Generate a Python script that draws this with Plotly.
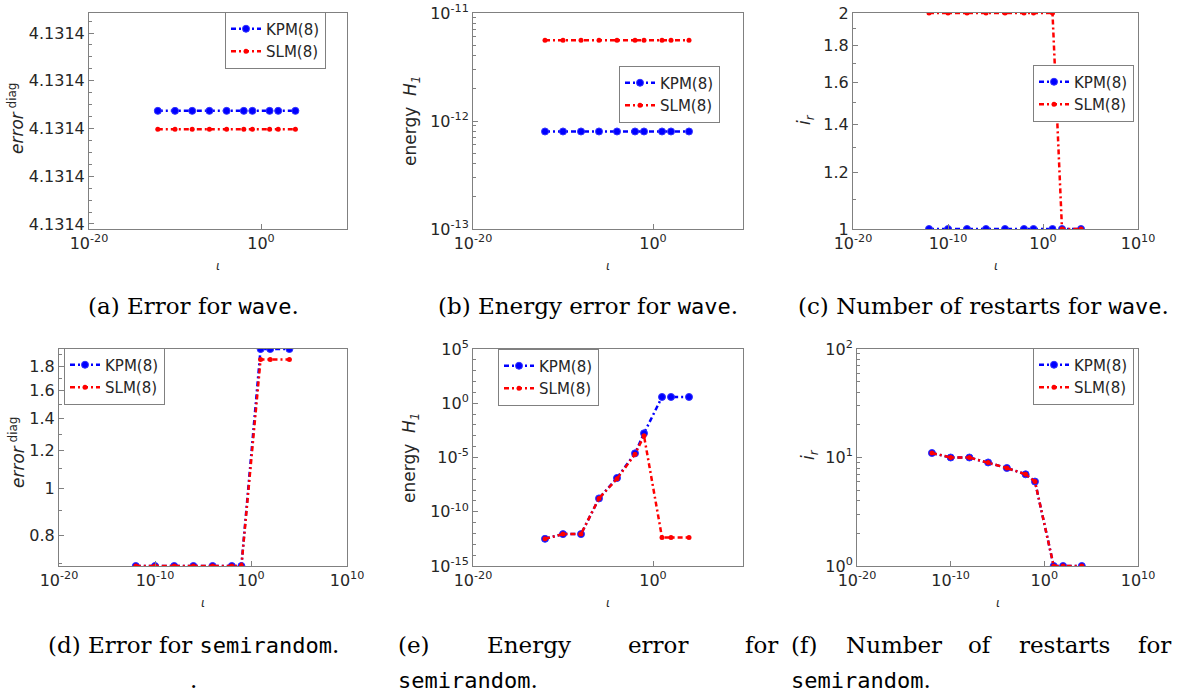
import math
import plotly.graph_objects as go

W, H = 1177, 694

# ---------------- data ----------------
iota = [1e-12, 1e-10, 1e-8, 1e-6, 1e-4, 1e-2, 1e-1, 1e1, 1e2, 1e4]

# (a) error for wave (values differ only beyond the 4th decimal)
err_wave_kpm = [4.13144074, 4.13144074, 4.13144074, 4.13144074, 4.13144074,
                4.13144074, 4.13144074, 4.13144074, 4.13144074, 4.13144074]
err_wave_slm = [4.13143997, 4.13143997, 4.13143997, 4.13143997, 4.13143997,
                4.13143997, 4.13143997, 4.13143997, 4.13143997, 4.13143997]
err_wave_ticks = [4.131436, 4.131438, 4.131440, 4.131442, 4.131444]
err_wave_ticktext = ["4.1314", "4.1314", "4.1314", "4.1314", "4.1314"]

# (b) energy error for wave
en_wave_kpm = [8.0e-13, 8.0e-13, 8.0e-13, 8.0e-13, 8.0e-13,
               8.0e-13, 8.0e-13, 8.0e-13, 8.0e-13, 8.0e-13]
en_wave_slm = [5.6e-12, 5.6e-12, 5.6e-12, 5.6e-12, 5.6e-12,
               5.6e-12, 5.6e-12, 5.6e-12, 5.6e-12, 5.6e-12]

# (c) restarts for wave
ir_wave_kpm = [1, 1, 1, 1, 1, 1, 1, 1, 1, 1]
ir_wave_slm = [2, 2, 2, 2, 2, 2, 2, 2, 1, 1]

# (d) error for semirandom
err_semi_kpm = [0.69, 0.69, 0.69, 0.69, 0.69, 0.69, 0.69, 1.955, 1.955, 1.955]
err_semi_slm = [0.69, 0.69, 0.69, 0.69, 0.69, 0.69, 0.69, 1.86, 1.86, 1.86]

# (e) energy error for semirandom
en_semi_kpm = [3.2e-13, 8.7e-13, 8.7e-13, 1.7e-9, 1.3e-7, 2.4e-5, 1.7e-3, 3.8, 3.8, 3.8]
en_semi_slm = [3.2e-13, 8.7e-13, 8.7e-13, 1.7e-9, 1.1e-7, 2.0e-5, 1.0e-3, 4.3e-13, 4.3e-13, 4.3e-13]

# (f) restarts for semirandom
ir_semi_kpm = [11, 10, 10, 9, 8, 7, 6, 1, 1, 1]
ir_semi_slm = [11, 10, 10, 9, 8, 7, 6, 1, 1, 1]

series_names = ["KPM(8)", "SLM(8)"]

# ---------------- layout helpers ----------------
def fx(x):
    return x / W


def fy(y):
    return 1 - y / H


GRAY = "#808080"
TXT = "#262626"
TICKFONT = dict(family="DejaVu Sans", size=16, color=TXT)

axis_common = dict(showline=True, linecolor=GRAY, linewidth=1, mirror=True,
                   ticks="inside", ticklen=5, tickcolor=GRAY, showgrid=False,
                   zeroline=False, tickfont=TICKFONT, automargin=False)
minor_style = dict(ticks="inside", ticklen=3, tickcolor=GRAY, showgrid=False)


def sup(e):
    return "10<sup>%d</sup>" % e


# panel boxes in pixels: (x0, x1, ytop, ybottom)
boxes = {
    1: (89, 347, 13, 229),
    2: (473, 743, 13, 229),
    3: (853, 1138, 13, 229),
    4: (59, 347, 349, 566),
    5: (473, 743, 349, 566),
    6: (857, 1138, 349, 566),
}

x2ticks = [1e-20, 1e0]
x2text = [sup(-20), sup(0)]
x4ticks = [1e-20, 1e-10, 1e0, 1e10]
x4text = [sup(-20), sup(-10), sup(0), sup(10)]

xaxes = {
    1: dict(type="log", range=[-20, 10], tickvals=x2ticks, ticktext=x2text),
    2: dict(type="log", range=[-20, 10], tickvals=x2ticks, ticktext=x2text),
    3: dict(type="log", range=[-20, 10], tickvals=x4ticks, ticktext=x4text),
    4: dict(type="log", range=[-20, 10], tickvals=x4ticks, ticktext=x4text),
    5: dict(type="log", range=[-20, 10], tickvals=x2ticks, ticktext=x2text),
    6: dict(type="log", range=[-20, 10], tickvals=x4ticks, ticktext=x4text),
}

yaxes = {
    1: dict(type="linear", range=[4.13143579, 4.13144484], tickvals=err_wave_ticks,
            ticktext=err_wave_ticktext,
            minor=dict(minor_style, tickvals=[4.131436 + 0.0000005 * k for k in range(18)])),
    2: dict(type="log", range=[-13, -11], tickvals=[1e-13, 1e-12, 1e-11],
            ticktext=[sup(-13), sup(-12), sup(-11)],
            minor=dict(minor_style, tickvals=[m * 10 ** e for e in (-13, -12) for m in range(2, 10)])),
    3: dict(type="log", range=[0, math.log10(2)], tickvals=[1, 1.2, 1.4, 1.6, 1.8, 2],
            ticktext=["1", "1.2", "1.4", "1.6", "1.8", "2"],
            minor=dict(minor_style, tickvals=[1.1, 1.3, 1.5, 1.7, 1.9])),
    4: dict(type="log", range=[math.log10(0.69), math.log10(1.955)],
            tickvals=[0.8, 1, 1.2, 1.4, 1.6, 1.8],
            ticktext=["0.8", "1", "1.2", "1.4", "1.6", "1.8"],
            minor=dict(minor_style, tickvals=[0.7, 0.9, 1.1, 1.3, 1.5, 1.7, 1.9])),
    5: dict(type="log", range=[-15, 5], tickvals=[1e-15, 1e-10, 1e-5, 1e0, 1e5],
            ticktext=[sup(-15), sup(-10), sup(-5), sup(0), sup(5)],
            minor=dict(minor_style, tickvals=[10.0 ** e for e in range(-15, 6)])),
    6: dict(type="log", range=[0, 2], tickvals=[1, 10, 100],
            ticktext=[sup(0), sup(1), sup(2)],
            minor=dict(minor_style, tickvals=[m * 10 ** e for e in (0, 1) for m in range(2, 10)])),
}

panel_data = {
    1: (err_wave_kpm, err_wave_slm),
    2: (en_wave_kpm, en_wave_slm),
    3: (ir_wave_kpm, ir_wave_slm),
    4: (err_semi_kpm, err_semi_slm),
    5: (en_semi_kpm, en_semi_slm),
    6: (ir_semi_kpm, ir_semi_slm),
}

# legend anchor (x, y in pixels, xanchor)
legend_pos = {
    1: (326, 40, "right"),
    2: (720, 94, "right"),
    3: (1134, 93, "right"),
    4: (64, 376, "left"),
    5: (498, 377, "left"),
    6: (1134, 376, "right"),
}

fig = go.Figure()
layout = dict(width=W, height=H, margin=dict(l=0, r=0, t=0, b=0, autoexpand=False),
              paper_bgcolor="white", plot_bgcolor="white", showlegend=True)

for p in range(1, 7):
    x0, x1, yt, yb = boxes[p]
    xa = "xaxis" if p == 1 else "xaxis%d" % p
    ya = "yaxis" if p == 1 else "yaxis%d" % p
    xr = "x" if p == 1 else "x%d" % p
    yr = "y" if p == 1 else "y%d" % p
    lg = "legend" if p == 1 else "legend%d" % p
    layout[xa] = dict(axis_common, domain=[fx(x0), fx(x1)], anchor=yr, **xaxes[p])
    layout[ya] = dict(axis_common, domain=[fy(yb), fy(yt)], anchor=xr, **yaxes[p])
    lx, ly, lanc = legend_pos[p]
    layout[lg] = dict(x=fx(lx), y=fy(ly), xanchor=lanc, yanchor="middle",
                      bgcolor="white", bordercolor=GRAY, borderwidth=1,
                      font=dict(family="DejaVu Sans", size=15, color=TXT),
                      itemwidth=30, tracegroupgap=0)
    kpm, slm = panel_data[p]
    fig.add_trace(go.Scatter(x=iota, y=kpm, name=series_names[0], mode="lines+markers",
                             xaxis=xr, yaxis=yr, legend=lg,
                             line=dict(color="#0000ff", width=2.5, dash="5px,3px,2px,3px"),
                             marker=dict(symbol="circle", size=7, color="#0000ff",
                                         line=dict(width=1, color="#3333ff"))))
    fig.add_trace(go.Scatter(x=iota, y=slm, name=series_names[1], mode="lines+markers",
                             xaxis=xr, yaxis=yr, legend=lg,
                             line=dict(color="#ff0000", width=2.5, dash="5px,3px,2px,3px"),
                             marker=dict(symbol="circle", size=5, color="#ff0000")))

fig.update_layout(**layout)

ann = []
# y-axis titles
ytitles = {
    1: ("<i>error</i><sup> diag</sup>", 16, 119),
    2: ("energy  <i>H<sub>1</sub></i>", 411, 121),
    3: ("<i>i<sub>r</sub></i>", 805, 120),
    4: ("<i>error</i><sup> diag</sup>", 17, 453),
    5: ("energy  <i>H<sub>1</sub></i>", 410, 458),
    6: ("<i>i<sub>r</sub></i>", 810, 455),
}
for p, (t, x, y) in ytitles.items():
    ann.append(dict(text=t, x=fx(x), y=fy(y), xref="paper", yref="paper",
                    showarrow=False, textangle=-90, xanchor="center", yanchor="middle",
                    font=dict(family="DejaVu Sans", size=17, color=TXT)))
# x-axis titles (iota)
for p in range(1, 7):
    x0, x1, yt, yb = boxes[p]
    ann.append(dict(text="<i>ι</i>", x=fx((x0 + x1) / 2), y=fy(yb + 37), xref="paper",
                    yref="paper", showarrow=False, xanchor="center", yanchor="middle",
                    font=dict(family="DejaVu Sans", size=12, color=TXT)))

SERIF = "DejaVu Serif"
MONO = "DejaVu Sans Mono"
CAP = dict(family=SERIF, size=23, color="black")


def mono(s):
    return "<span style='font-family:%s;font-size:22px'>%s</span>" % (MONO, s)


# captions: (text, x, y, anchor); subfigure columns centred at 193, 588, 983
captions = [
    ("(a) Error for " + mono("wave") + ".", 193, 306, "center"),
    ("(b) Energy error for " + mono("wave") + ".", 588, 306, "center"),
    ("(c) Number of restarts for " + mono("wave") + ".", 983, 306, "center"),
    ("(d) Error for " + mono("semirandom") + ".", 193, 645, "center"),
    (".", 193, 680, "center"),
    ("(e)", 397, 645, "left"),
    ("Energy", 486, 645, "left"),
    ("error", 627, 645, "left"),
    ("for", 779, 645, "right"),
    (mono("semirandom") + ".", 397, 680, "left"),
    ("(f)", 790, 645, "left"),
    ("Number", 845, 645, "left"),
    ("of", 967, 645, "left"),
    ("restarts", 1018, 645, "left"),
    ("for", 1172, 645, "right"),
    (mono("semirandom") + ".", 790, 680, "left"),
]
for t, x, y, anc in captions:
    ann.append(dict(text=t, x=fx(x), y=fy(y), xref="paper", yref="paper",
                    showarrow=False, xanchor=anc, yanchor="middle", font=CAP,
                    borderpad=0))

fig.update_layout(annotations=ann)
fig.write_html("out.html")
